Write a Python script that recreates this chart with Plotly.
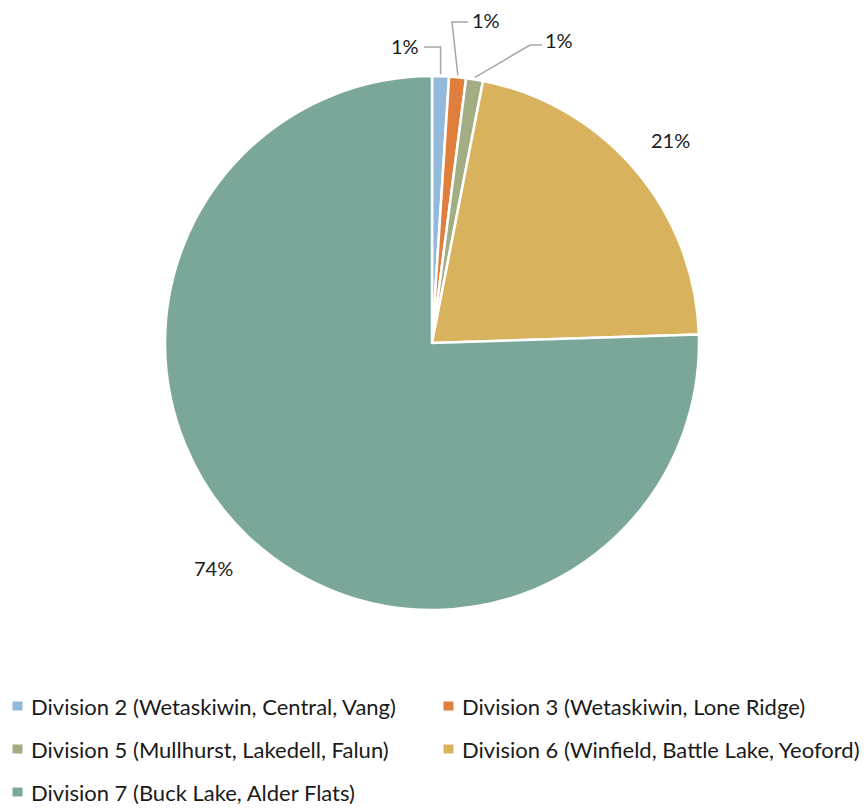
import math
import plotly.graph_objects as go

# Share of respondents by division (percent)
divisions = [
    "Division 2 (Wetaskiwin, Central, Vang)",
    "Division 3 (Wetaskiwin, Lone Ridge)",
    "Division 5 (Mullhurst, Lakedell, Falun)",
    "Division 6 (Winfield, Battle Lake, Yeoford)",
    "Division 7 (Buck Lake, Alder Flats)",
]
shares = [1, 1, 1, 21, 74]
colors = ["#92B8DA", "#E07E3C", "#A3AD84", "#D9B25E", "#7BA79B"]

W, H = 866, 809
CX, CY, R = 432, 343, 267          # pie centre and radius in pixels
FONT = "Lato"
TEXT_COLOR = "#1a1a1a"
LEADER_COLOR = "#A6A6A6"


def px(x, y):
    """pixel -> paper coordinates"""
    return x / W, 1 - y / H


def polar(angle_deg, r):
    """angle measured clockwise from 12 o'clock"""
    a = math.radians(angle_deg)
    return CX + r * math.sin(a), CY - r * math.cos(a)


fig = go.Figure(go.Pie(
    labels=divisions,
    values=shares,
    sort=False,
    direction="clockwise",
    rotation=0,
    marker=dict(colors=colors, line=dict(color="white", width=2.5)),
    textinfo="none",
    hovertemplate="%{label}: %{value}%<extra></extra>",
    domain=dict(x=[(CX - R) / W, (CX + R) / W],
                y=[1 - (CY + R) / H, 1 - (CY - R) / H]),
    showlegend=False,
))

total = sum(shares)
cum = 0
mids = []
for v in shares:
    mids.append((cum + v / 2) / total * 360)
    cum += v

annotations = []
shapes = []

# small slices: labels lifted above the pie with elbow leader lines
small_labels = [
    # (text centre, elbow point, line end near text)
    ((405, 46), None, (424, 47)),
    ((486, 20), (452, 22), (468, 22)),
    ((559, 40), (530, 45), (542, 45)),
]
for i, (txt, elbow, end) in enumerate(small_labels):
    ex, ey = polar(mids[i], R + 2)
    if elbow is None:
        pts = [(ex, ey), (ex, end[1]), end]
    else:
        pts = [(ex, ey), elbow, end]
    path = "M " + " L ".join("%.5f,%.5f" % px(x, y) for x, y in pts)
    shapes.append(dict(type="path", path=path, xref="paper", yref="paper",
                       line=dict(color=LEADER_COLOR, width=1.5)))
    tx, ty = px(*txt)
    annotations.append(dict(x=tx, y=ty, xref="paper", yref="paper",
                            text=f"{shares[i]}%", showarrow=False,
                            xanchor="center", yanchor="middle",
                            font=dict(family=FONT, size=20, color=TEXT_COLOR)))

# large slices: labels just outside the rim
for i in (3, 4):
    lx, ly = polar(mids[i], R * 1.175)
    tx, ty = px(lx, ly)
    annotations.append(dict(x=tx, y=ty, xref="paper", yref="paper",
                            text=f"{shares[i]}%", showarrow=False,
                            xanchor="center", yanchor="middle",
                            font=dict(family=FONT, size=20, color=TEXT_COLOR)))

# legend: two columns, three rows
col_x = [17.5, 448.5]
row_y = [706, 749, 792]
for i, (name, col) in enumerate(zip(divisions, colors)):
    mx = col_x[i % 2]
    my = row_y[i // 2]
    x0, y0 = px(mx - 5, my - 4.5)
    x1, y1 = px(mx + 5, my + 4.5)
    shapes.append(dict(type="rect", xref="paper", yref="paper",
                       x0=x0, x1=x1, y0=y1, y1=y0,
                       fillcolor=col, line=dict(width=0)))
    tx, ty = px(mx + 11, my)
    annotations.append(dict(x=tx, y=ty, xref="paper", yref="paper",
                            text=name, showarrow=False,
                            xanchor="left", yanchor="middle",
                            font=dict(family=FONT, size=22, color=TEXT_COLOR)))

fig.update_layout(
    width=W, height=H,
    margin=dict(l=0, r=0, t=0, b=0),
    paper_bgcolor="white",
    plot_bgcolor="white",
    annotations=annotations,
    shapes=shapes,
)

fig.write_html("out.html")
